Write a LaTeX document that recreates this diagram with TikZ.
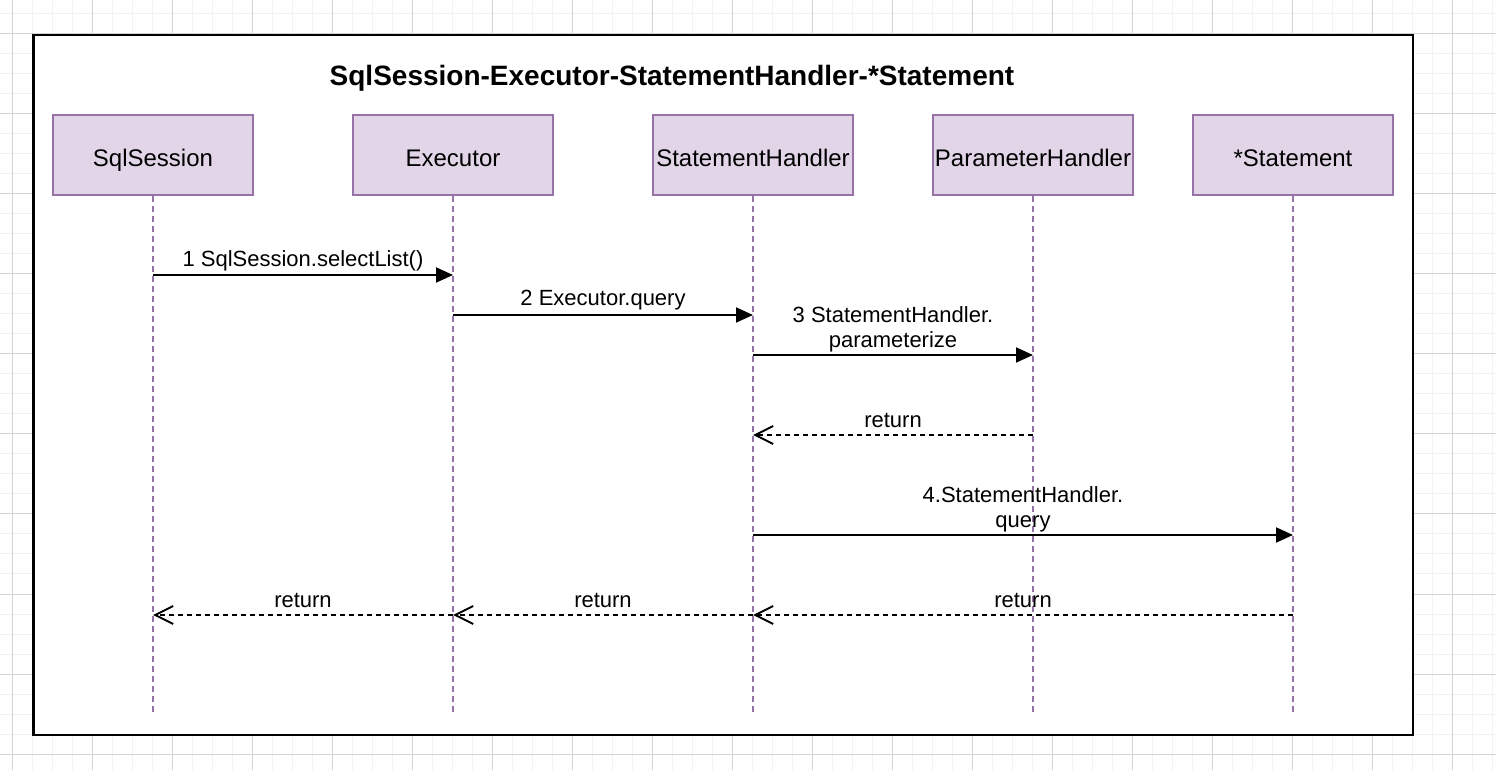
\documentclass[tikz,border=0pt]{standalone}
\usepackage{fontspec}
\setmainfont{Liberation Sans}
\usetikzlibrary{arrows.meta}
\definecolor{lfill}{HTML}{E1D5E7}
\definecolor{lstroke}{HTML}{9673A6}
\definecolor{gminor}{HTML}{F2F2F2}
\definecolor{gmajor}{HTML}{D4D4D4}
\begin{document}
\begin{tikzpicture}[x=0.5pt,y=-0.5pt,
  lifebox/.style={draw=lstroke, fill=lfill, line width=0.75pt, minimum width=100pt, minimum height=40pt, inner sep=0pt, text height=12pt, text depth=0.4pt, font=\fontsize{12}{14}\selectfont},
  lifeline/.style={draw=lstroke, line width=1pt, dash pattern=on 3pt off 2pt},
  msg/.style={draw=black, line width=1pt, -{Triangle[length=8.5pt,width=7.5pt]}},
  ret/.style={draw=black, line width=1pt, dash pattern=on 2.5pt off 2pt, -{Straight Barb[length=9pt,width=9pt,line width=1pt]}},
  lbl/.style={font=\fontsize{11}{12.5}\selectfont, align=center, inner sep=0pt},
  gridminor/.style={draw=gminor, line width=0.5pt},
  gridmajor/.style={draw=gmajor, line width=0.5pt},
  frame/.style={draw=black, fill=white, line width=1.2pt},
  titlestyle/.style={font=\fontsize{14}{16}\selectfont\bfseries, inner sep=0pt}
]
\useasboundingbox (0,0) rectangle (1496,770);
\fill[white] (0,0) rectangle (1496,770);
% grid
\foreach \x in {12,32,...,1492} \draw[gridminor] (\x,0) -- (\x,770);
\foreach \y in {14,34,...,770} \draw[gridminor] (0,\y) -- (1496,\y);
\foreach \x in {12,92,...,1492} \draw[gridmajor] (\x,0) -- (\x,770);
\foreach \y in {34,114,...,770} \draw[gridmajor] (0,\y) -- (1496,\y);
% frame
\draw[frame] (33.5,35) rectangle (1413,735);
\node[titlestyle] (title) at (672,78.5) {SqlSession-Executor-StatementHandler-*Statement};
% lifelines
\node[lifebox] (a) at (153,155) {SqlSession};
\node[lifebox] (b) at (453,155) {Executor};
\node[lifebox] (c) at (753,155) {StatementHandler};
\node[lifebox] (d) at (1033,155) {ParameterHandler};
\node[lifebox] (e) at (1293,155) {*Statement};
\coordinate (aend) at (153,715);
\coordinate (bend) at (453,715);
\coordinate (cend) at (753,715);
\coordinate (dend) at (1033,715);
\coordinate (eend) at (1293,715);
\draw[lifeline] (a) -- (aend);
\draw[lifeline] (b) -- (bend);
\draw[lifeline] (c) -- (cend);
\draw[lifeline] (d) -- (dend);
\draw[lifeline] (e) -- (eend);
% message points
\coordinate (a1) at (153,275); \coordinate (b1) at (453,275);
\coordinate (b2) at (453,315); \coordinate (c2) at (753,315);
\coordinate (c3) at (753,355); \coordinate (d3) at (1033,355);
\coordinate (d4) at (1033,435); \coordinate (c4) at (753,435);
\coordinate (c5) at (753,535); \coordinate (e5) at (1293,535);
\coordinate (e6) at (1293,615); \coordinate (c6) at (753,615);
\coordinate (b6) at (453,615); \coordinate (a6) at (153,615);
% messages
\draw[msg] (a1) -- node[lbl, midway, yshift=7.2pt] (l1) {1 SqlSession.selectList()} (b1);
\draw[msg] (b2) -- node[lbl, midway, yshift=7.2pt] (l2) {2 Executor.query} (c2);
\draw[msg] (c3) -- node[lbl, midway, yshift=13pt] (l3) {3 StatementHandler.\\parameterize} (d3);
\draw[ret] (d4) -- node[lbl, midway, yshift=7.5pt] (l4) {return} (c4);
\draw[msg] (c5) -- node[lbl, midway, yshift=13pt] (l5) {4.StatementHandler.\\query} (e5);
\draw[ret] (e6) -- node[lbl, midway, yshift=7.5pt] (l6) {return} (c6);
\draw[ret] (c6) -- node[lbl, midway, yshift=7.5pt] (l7) {return} (b6);
\draw[ret] (b6) -- node[lbl, midway, yshift=7.5pt] (l8) {return} (a6);
\end{tikzpicture}
\end{document}
